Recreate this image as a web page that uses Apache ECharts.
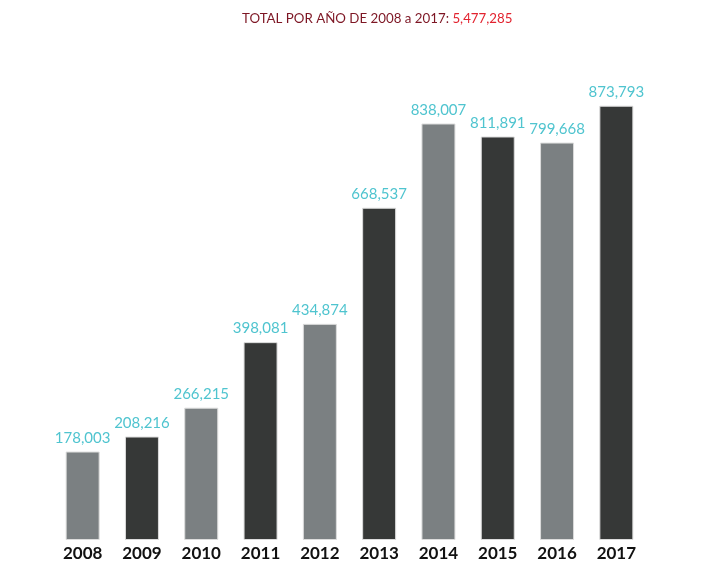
<!DOCTYPE html>
<html>
<head>
<meta charset="utf-8">
<script src="https://cdn.jsdelivr.net/npm/echarts@6/dist/echarts.min.js"></script>
<style>
	html, body { margin: 0; padding: 0; background: #fff; }
	#chart { width: 725px; height: 573px; }
</style>
</head>
<body>
<div id="chart"></div>
<script>
var years = ['2008', '2009', '2010', '2011', '2012', '2013', '2014', '2015', '2016', '2017'];
var totals = [178003, 208216, 266215, 398081, 434874, 668537, 838007, 811891, 799668, 873793];
var barColors = ['#7b8082', '#363837'];
var grandTotal = '5,477,285';

var fmt = function(v) {
	return v.toString().replace(/\B(?=(\d{3})+(?!\d))/g, ',');
};

var myChart = echarts.init(document.getElementById('chart'));
var option = {
	title : {
		text : '{a|TOTAL POR AÑO DE 2008 a 2017: }{b|' + grandTotal + '}',
		left : 237,
		top : 7,
		textStyle : {
			fontWeight : 'normal',
			rich : {
				a : { color : '#7d1624', fontSize : 13.3, fontWeight : 'normal', fontFamily : 'Lato' },
				b : { color : '#e2232f', fontSize : 13.3, fontWeight : 'normal', fontFamily : 'Lato' }
			}
		}
	},
	grid : {
		left : 53,
		right : 79,
		top : 43,
		bottom : 33
	},
	xAxis : [{
		type : 'category',
		data : years,
		axisLine : { show : false },
		axisTick : { show : false },
		axisLabel : {
			interval : 0,
			margin : 5,
			color : '#111',
			fontSize : 17,
			fontWeight : 'bold',
			fontFamily : 'Lato'
		}
	}],
	yAxis : [{
		type : 'value',
		min : 0,
		max : 1000000,
		show : false,
		splitLine : { show : false }
	}],
	series : [{
		type : 'bar',
		barWidth : 34,
		data : totals.map(function(v, i) {
			return {
				value : v,
				itemStyle : { color : barColors[i % 2] }
			};
		}),
		itemStyle : {
			borderColor : '#dcdcdc',
			borderWidth : 1
		},
		label : {
			show : true,
			position : 'top',
			distance : 6,
			color : '#4fc4cf',
			fontSize : 15,
			fontFamily : 'Lato',
			formatter : function(p) { return fmt(p.value); }
		}
	}]
};
myChart.setOption(option);
</script>
</body>
</html>
